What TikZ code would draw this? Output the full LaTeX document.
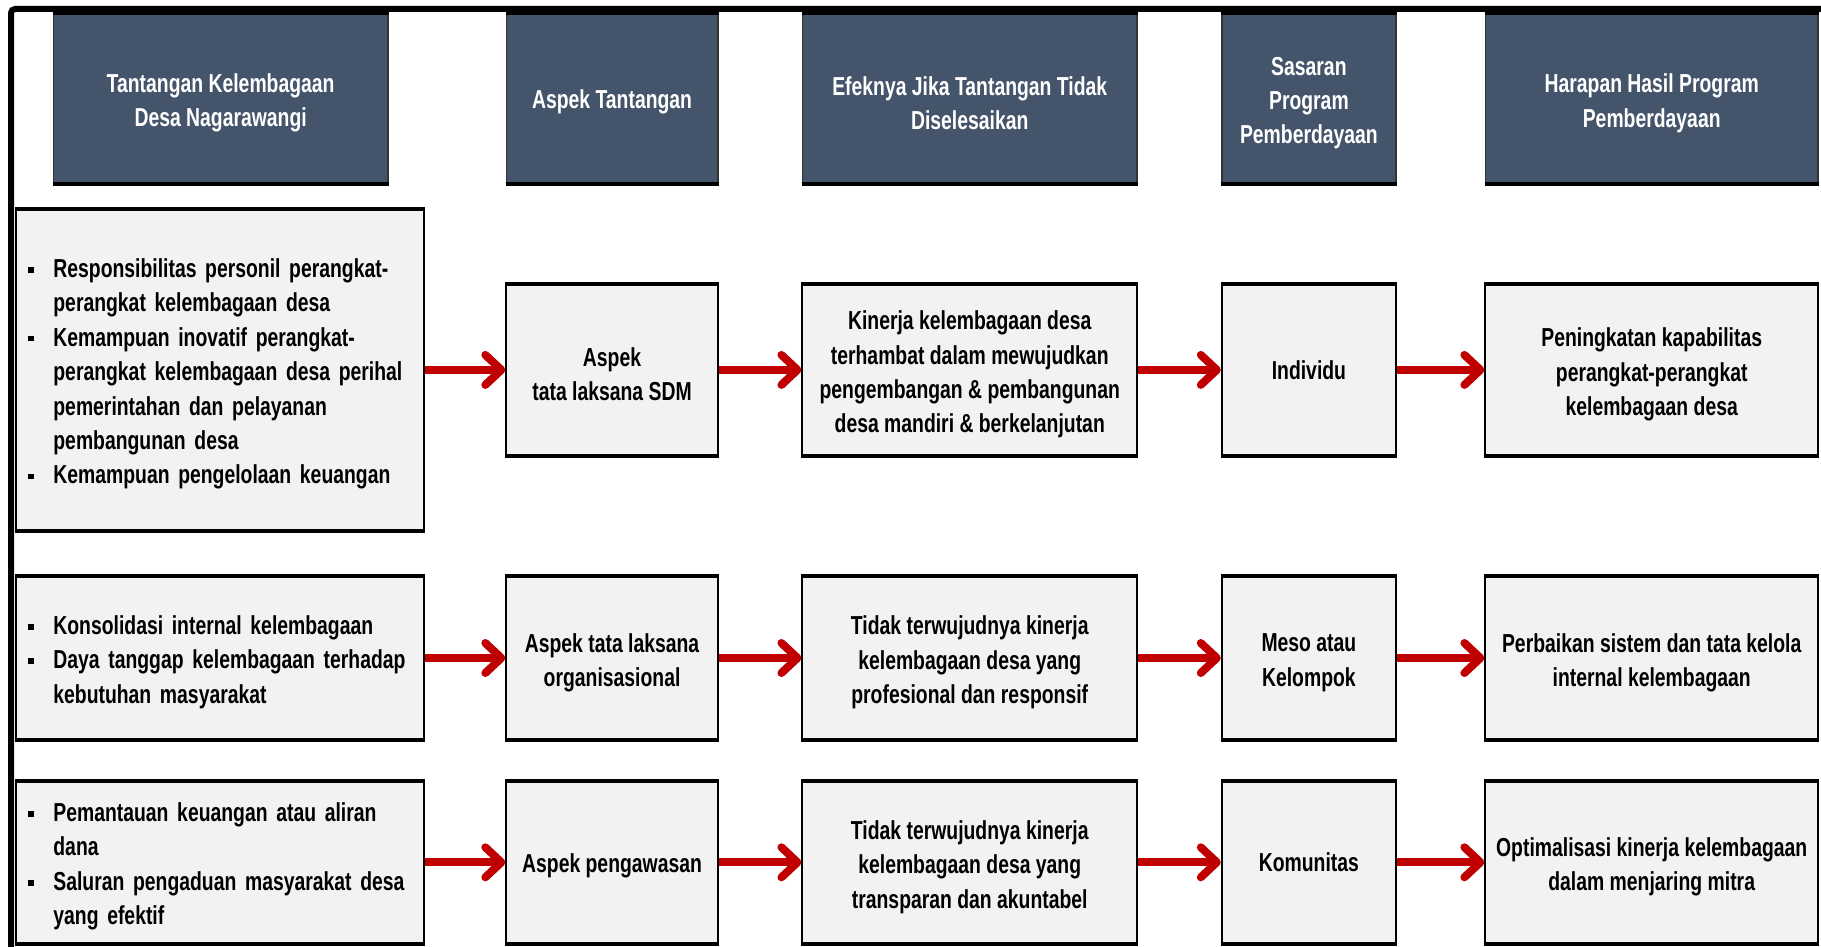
\documentclass[tikz,border=0pt]{standalone}
\usepackage{fontspec}
\setmainfont{Liberation Sans}[FakeStretch=0.745]
\usetikzlibrary{arrows.meta}
\definecolor{hdr}{HTML}{44546A}
\definecolor{boxgray}{HTML}{F2F2F2}
\definecolor{arrred}{HTML}{C00000}
\newcommand{\mystrut}{\vrule width 0pt height 12pt depth 2.8pt\relax}
\newcommand{\bitem}[1]{\noindent\hangindent=12.75pt\hangafter=1\makebox[12.75pt][l]{\raisebox{2.4pt}{\rule{2.8pt}{2.8pt}}}\vrule width 0pt height 13.6pt depth 0pt\relax\mystrut#1\mystrut\par}
\begin{document}
\begin{tikzpicture}[x=0.5pt,y=-0.5pt,
  every node/.style={font=\fontsize{13}{17.2}\selectfont\bfseries},
  hbox/.style={fill=hdr, draw=black!80, line width=0.8pt, text=white, align=center, inner sep=0pt, minimum height=85pt},
  gbox/.style={fill=boxgray, draw=black, line width=1pt, align=center, inner sep=0pt},
  htxt/.style={text=white, align=center, inner sep=0pt, yshift=-2.3pt},
  gtxt/.style={align=center, inner sep=0pt, yshift=-2.3pt},
  lbox/.style={fill=boxgray, draw=black, line width=1pt, inner xsep=5.8pt, inner ysep=0pt, text width=192.2pt,
    execute at begin node={\rightskip=0pt plus 1fil\hyphenpenalty=10000\exhyphenpenalty=10000\parindent=0pt}},
  conn/.style={draw=arrred, line width=4pt, -{Straight Barb[length=8pt,width=15pt,round]}}
]
\useasboundingbox (0,0) rectangle (1821,947);
% outer frame
\draw[line width=3pt, rounded corners=2pt] (11,960) -- (11,9) -- (1840,9);

% headers
\node[hbox, minimum width=167.3pt] (h1) at (220.65,98.5) {};
\node[hbox, minimum width=105.7pt] (h2) at (612.05,98.5) {};
\node[hbox, minimum width=167.3pt] (h3) at (969.75,98.5) {};
\node[hbox, minimum width=87.1pt] (h4) at (1308.9,98.5) {};
\node[hbox, minimum width=166.3pt] (h5) at (1651.7,98.5) {};
\node[htxt] (h1t) at (h1.center) {Tantangan Kelembagaan\\Desa Nagarawangi};
\node[htxt, yshift=0.55pt] (h2t) at (h2.center) {Aspek Tantangan};
\node[htxt] (h3t) at (h3.center) {Efeknya Jika Tantangan Tidak\\Diselesaikan};
\node[htxt] (h4t) at (h4.center) {Sasaran\\Program\\Pemberdayaan};
\node[htxt] (h5t) at (h5.center) {Harapan Hasil Program\\Pemberdayaan};

% row 1
\node[lbox, minimum height=159.7pt] (a1) at (220.1,369.9) {%
\bitem{Responsibilitas personil perangkat-\newline perangkat kelembagaan desa}
\bitem{Kemampuan inovatif perangkat-\newline perangkat kelembagaan desa perihal\newline pemerintahan dan pelayanan\newline pembangunan desa}
\bitem{Kemampuan pengelolaan keuangan}};
\node[gbox, minimum width=105.7pt, minimum height=84.8pt] (a2) at (612.05,369.9) {};
\node[gbox, minimum width=167.3pt, minimum height=84.8pt] (a3) at (969.75,369.9) {};
\node[gbox, minimum width=87.1pt, minimum height=84.8pt] (a4) at (1308.9,369.9) {Individu};
\node[gbox, minimum width=166.3pt, minimum height=84.8pt] (a5) at (1651.7,369.9) {};
\node[gtxt] (a2t) at (a2.center) {Aspek\\tata laksana SDM};
\node[gtxt] (a3t) at (a3.center) {Kinerja kelembagaan desa\\terhambat dalam mewujudkan\\pengembangan \& pembangunan\\desa mandiri \& berkelanjutan};
\node[gtxt] (a5t) at (a5.center) {Peningkatan kapabilitas\\perangkat-perangkat\\kelembagaan desa};

% row 2
\node[lbox, minimum height=80.75pt] (b1) at (220.1,658) {%
\bitem{Konsolidasi internal kelembagaan}
\bitem{Daya tanggap kelembagaan terhadap\newline kebutuhan masyarakat}};
\node[gbox, minimum width=105.7pt, minimum height=80.75pt] (b2) at (612.05,658) {};
\node[gbox, minimum width=167.3pt, minimum height=80.75pt] (b3) at (969.75,658) {};
\node[gbox, minimum width=87.1pt, minimum height=80.75pt] (b4) at (1308.9,658) {};
\node[gbox, minimum width=166.3pt, minimum height=80.75pt] (b5) at (1651.7,658) {};
\node[gtxt] (b2t) at (b2.center) {Aspek tata laksana\\organisasional};
\node[gtxt] (b3t) at (b3.center) {Tidak terwujudnya kinerja\\kelembagaan desa yang\\profesional dan responsif};
\node[gtxt] (b4t) at (b4.center) {Meso atau\\Kelompok};
\node[gtxt] (b5t) at (b5.center) {Perbaikan sistem dan tata kelola\\internal kelembagaan};

% row 3
\node[lbox, minimum height=80.75pt] (c1) at (220.1,862.3) {%
\bitem{Pemantauan keuangan atau aliran\newline dana}
\bitem{Saluran pengaduan masyarakat desa\newline yang efektif}};
\node[gbox, minimum width=105.7pt, minimum height=80.75pt] (c2) at (612.05,862.3) {};
\node[gbox, minimum width=167.3pt, minimum height=80.75pt] (c3) at (969.75,862.3) {};
\node[gbox, minimum width=87.1pt, minimum height=80.75pt] (c4) at (1308.9,862.3) {Komunitas};
\node[gbox, minimum width=166.3pt, minimum height=80.75pt] (c5) at (1651.7,862.3) {};
\node[gtxt, yshift=0.55pt] (c2t) at (c2.center) {Aspek pengawasan};
\node[gtxt] (c3t) at (c3.center) {Tidak terwujudnya kinerja\\kelembagaan desa yang\\transparan dan akuntabel};
\node[gtxt] (c5t) at (c5.center) {Optimalisasi kinerja kelembagaan\\dalam menjaring mitra};

% thick top/bottom edges
\foreach \n in {h1,h2,h3,h4,h5,a1,a2,a3,a4,a5,b1,b2,b3,b4,b5,c1,c2,c3,c4,c5}
  \draw[line width=2pt] (\n.north west) -- (\n.north east) (\n.south west) -- (\n.south east);

% connectors
\foreach \r in {a,b,c}{
  \draw[conn] (\r1.east) -- (\r2.west);
  \draw[conn] (\r2.east) -- (\r3.west);
  \draw[conn] (\r3.east) -- (\r4.west);
  \draw[conn] (\r4.east) -- (\r5.west);
}
\end{tikzpicture}
\end{document}
